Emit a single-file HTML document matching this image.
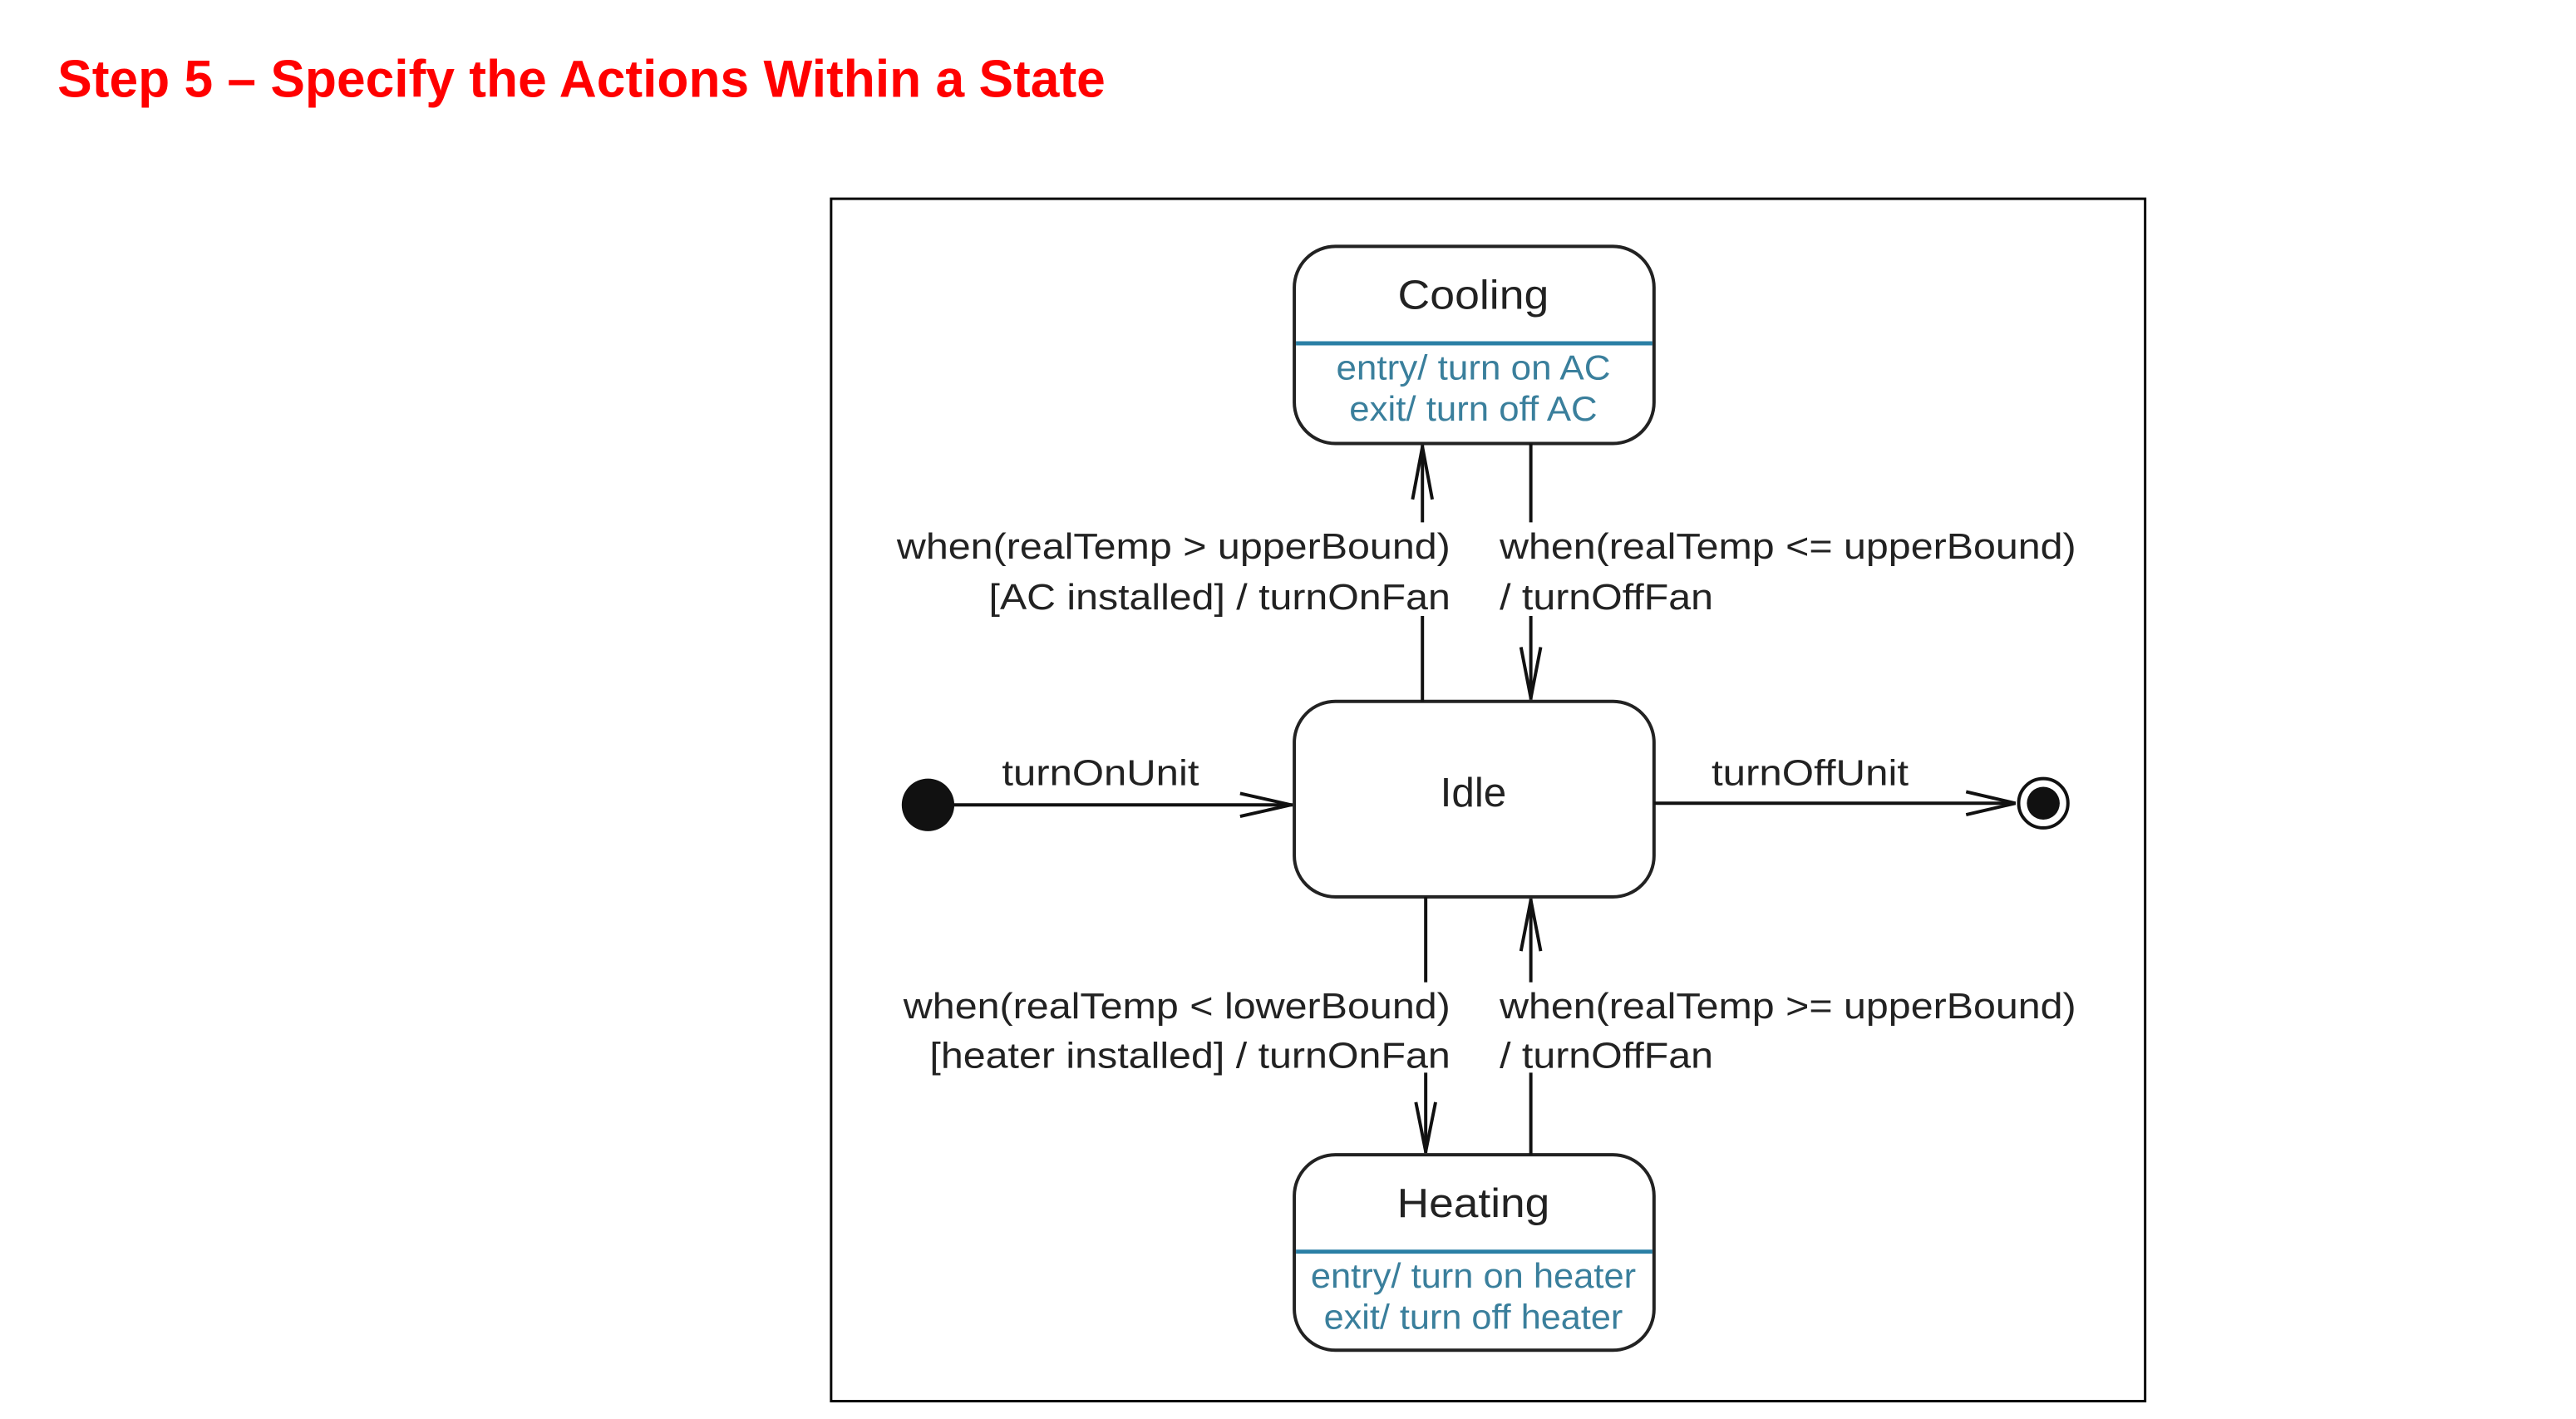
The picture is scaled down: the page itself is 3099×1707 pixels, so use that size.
<!DOCTYPE html>
<html><head><meta charset="utf-8"><style>
html,body{margin:0;padding:0;background:#fff;}
svg{display:block;}
</style></head><body>
<svg width="3099" height="1707" viewBox="0 0 3099 1707" xmlns="http://www.w3.org/2000/svg">
<g transform="scale(0.988)">
<text x="70" y="118" font-family="Liberation Sans, sans-serif" font-weight="bold" font-size="64" fill="#ff0000" textLength="1276" lengthAdjust="spacingAndGlyphs">Step 5 – Specify the Actions Within a State</text>
<rect x="1012" y="242" width="1600" height="1464" fill="none" stroke="#000" stroke-width="3"/>
<g fill="none" stroke="#222" stroke-width="4">
<rect x="1576" y="300" width="438" height="240" rx="50"/>
<rect x="1576" y="854" width="438" height="238" rx="50"/>
<rect x="1576" y="1406" width="438" height="238" rx="50"/>
</g>
<line x1="1578" y1="418" x2="2012" y2="418" stroke="#2a7fa5" stroke-width="5"/>
<line x1="1578" y1="1524" x2="2012" y2="1524" stroke="#2a7fa5" stroke-width="5"/>
<g font-family="Liberation Sans, sans-serif" text-anchor="middle">
<text x="1794" y="376" font-size="50" fill="#222" textLength="184" lengthAdjust="spacingAndGlyphs">Cooling</text>
<text x="1794" y="462" font-size="42" fill="#3a7f9c" textLength="334" lengthAdjust="spacingAndGlyphs">entry/ turn on AC</text>
<text x="1794" y="512" font-size="42" fill="#3a7f9c" textLength="302" lengthAdjust="spacingAndGlyphs">exit/ turn off AC</text>
<text x="1794" y="982" font-size="50" fill="#222">Idle</text>
<text x="1794" y="1482" font-size="50" fill="#222" textLength="186" lengthAdjust="spacingAndGlyphs">Heating</text>
<text x="1794" y="1568" font-size="42" fill="#3a7f9c" textLength="396" lengthAdjust="spacingAndGlyphs">entry/ turn on heater</text>
<text x="1794" y="1618" font-size="42" fill="#3a7f9c" textLength="364" lengthAdjust="spacingAndGlyphs">exit/ turn off heater</text>
</g>
<g stroke="#111" stroke-width="4" fill="none">
<line x1="1732" y1="542" x2="1732" y2="636"/><line x1="1732" y1="750" x2="1732" y2="854"/>
<polyline points="1720,608 1732,544 1744,608"/>
<line x1="1864" y1="540" x2="1864" y2="636"/><line x1="1864" y1="750" x2="1864" y2="852"/>
<polyline points="1852,788 1864,850 1876,788"/>
<line x1="1736" y1="1092" x2="1736" y2="1196"/><line x1="1736" y1="1306" x2="1736" y2="1404"/>
<polyline points="1724,1342 1736,1402 1748,1342"/>
<line x1="1864" y1="1094" x2="1864" y2="1196"/><line x1="1864" y1="1306" x2="1864" y2="1406"/>
<polyline points="1852,1158 1864,1096 1876,1158"/>
<line x1="1130" y1="980" x2="1574" y2="980"/>
<polyline points="1510,966 1572,980 1510,994"/>
<line x1="2014" y1="978" x2="2454" y2="978"/>
<polyline points="2394,964 2454,978 2394,992"/>
<circle cx="2488" cy="978" r="30"/>
</g>
<circle cx="1130" cy="980" r="32" fill="#111"/>
<circle cx="2488" cy="978" r="20" fill="#111"/>
<g font-family="Liberation Sans, sans-serif" font-size="44" fill="#222">
<text x="1766" y="680" text-anchor="end" textLength="674" lengthAdjust="spacingAndGlyphs">when(realTemp &gt; upperBound)</text>
<text x="1766" y="742" text-anchor="end" textLength="562" lengthAdjust="spacingAndGlyphs">[AC installed] / turnOnFan</text>
<text x="1826" y="680" textLength="702" lengthAdjust="spacingAndGlyphs">when(realTemp &lt;= upperBound)</text>
<text x="1826" y="742" textLength="260" lengthAdjust="spacingAndGlyphs">/ turnOffFan</text>
<text x="1766" y="1240" text-anchor="end" textLength="666" lengthAdjust="spacingAndGlyphs">when(realTemp &lt; lowerBound)</text>
<text x="1766" y="1300" text-anchor="end" textLength="634" lengthAdjust="spacingAndGlyphs">[heater installed] / turnOnFan</text>
<text x="1826" y="1240" textLength="702" lengthAdjust="spacingAndGlyphs">when(realTemp &gt;= upperBound)</text>
<text x="1826" y="1300" textLength="260" lengthAdjust="spacingAndGlyphs">/ turnOffFan</text>
<text x="1340" y="956" text-anchor="middle" textLength="240" lengthAdjust="spacingAndGlyphs">turnOnUnit</text>
<text x="2204" y="956" text-anchor="middle" textLength="240" lengthAdjust="spacingAndGlyphs">turnOffUnit</text>
</g>
</g>
</svg>
</body></html>
